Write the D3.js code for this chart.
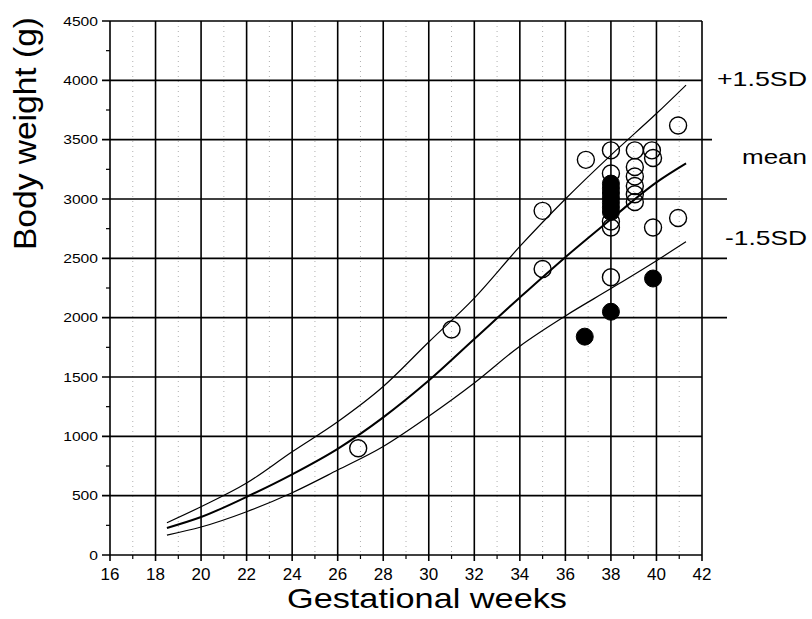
<!DOCTYPE html>
<html>
<head>
<meta charset="utf-8">
<script src="https://cdn.jsdelivr.net/npm/d3@7"></script>
<style>
  html, body { margin: 0; padding: 0; background: #fff; }
  svg { display: block; font-family: "Liberation Sans", Arial, sans-serif; }
</style>
</head>
<body>
<script>
// reference curves (weeks -> grams)
var curveWeeks = [18.5, 20, 22, 24, 26, 28, 30, 32, 34, 36, 38, 40, 41.3];
var plusSD  = [272, 407, 606, 870, 1123, 1420, 1795, 2165, 2600, 3000, 3370, 3720, 3960];
var meanW   = [228, 320, 490, 680, 895, 1160, 1470, 1820, 2170, 2510, 2830, 3140, 3300];
var minusSD = [168, 236, 365, 525, 716, 915, 1170, 1450, 1760, 2015, 2245, 2480, 2640];

// observed cases
var openWeeks  = [26.9, 31, 35, 35, 36.9, 38, 38, 38, 38, 38, 39.05, 39.05, 39.05, 39.05, 39.05, 39.05, 39.8, 39.85, 39.85, 40.95, 40.95];
var openGrams  = [900, 1900, 2900, 2410, 3330, 3410, 3215, 2810, 2760, 2340, 3410, 3270, 3190, 3110, 3040, 2975, 3410, 3345, 2760, 3620, 2840];
var fillWeeks  = [38, 38, 38, 38, 38, 38, 38, 38, 36.85, 39.85];
var fillGrams  = [3130, 3090, 3050, 3010, 2970, 2930, 2890, 2050, 1840, 2330];

var xTicks = d3.range(16, 43, 2);
var yTicks = d3.range(0, 4501, 500);
var curveLabels = ["+1.5SD", "mean", "-1.5SD"];

var W = 812, H = 619;
var x = d3.scaleLinear().domain([16, 42]).range([110, 702]);
var y = d3.scaleLinear().domain([0, 4500]).range([555, 21]);

var svg = d3.select(document.body).append("svg")
    .attr("width", W).attr("height", H);

// minor dotted verticals at odd weeks
svg.append("g").selectAll("line")
    .data(d3.range(17, 42, 2)).enter().append("line")
    .attr("x1", function(d){ return x(d); }).attr("x2", function(d){ return x(d); })
    .attr("y1", y(4500)).attr("y2", y(0))
    .style("stroke", "#b0b0b0").style("stroke-width", 1)
    .style("stroke-dasharray", "1,4");

// minor ticks
svg.append("g").selectAll("line")
    .data(d3.range(17, 42, 2)).enter().append("line")
    .attr("x1", function(d){ return x(d); }).attr("x2", function(d){ return x(d); })
    .attr("y1", y(0)).attr("y2", y(0) + 4)
    .style("stroke", "#000").style("stroke-width", 1.2);
svg.append("g").selectAll("line")
    .data(d3.range(250, 4500, 500)).enter().append("line")
    .attr("x1", x(16) - 4).attr("x2", x(16))
    .attr("y1", function(d){ return y(d); }).attr("y2", function(d){ return y(d); })
    .style("stroke", "#000").style("stroke-width", 1.2);

// major grid
svg.append("g").selectAll("line")
    .data(xTicks).enter().append("line")
    .attr("x1", function(d){ return x(d); }).attr("x2", function(d){ return x(d); })
    .attr("y1", y(4500)).attr("y2", y(0) + 6)
    .style("stroke", "#000").style("stroke-width", 1.6);

svg.append("g").selectAll("line")
    .data(yTicks).enter().append("line")
    .attr("x1", x(16) - 8)
    .attr("x2", function(d){
        var ext = (d >= 2000 && d <= 3000) ? 25 : (d === 3500 ? 10 : 0);
        return x(42) + ext;
    })
    .attr("y1", function(d){ return y(d); }).attr("y2", function(d){ return y(d); })
    .style("stroke", "#000").style("stroke-width", 1.6);

// tick labels
svg.append("g").selectAll("text")
    .data(yTicks).enter().append("text")
    .attr("x", 98).attr("y", function(d){ return y(d) + 4.5; })
    .attr("text-anchor", "end")
    .attr("textLength", function(d){ return String(d).length * 8.7; })
    .attr("lengthAdjust", "spacingAndGlyphs")
    .style("font-size", "13px")
    .text(function(d){ return d; });

svg.append("g").selectAll("text")
    .data(xTicks).enter().append("text")
    .attr("x", function(d){ return x(d); }).attr("y", 580)
    .attr("text-anchor", "middle")
    .style("font-size", "17px")
    .text(function(d){ return d; });

// axis titles
svg.append("text")
    .attr("transform", "translate(36,133.5) rotate(-90)")
    .attr("text-anchor", "middle")
    .attr("textLength", 233).attr("lengthAdjust", "spacingAndGlyphs")
    .style("font-size", "31px")
    .text("Body weight (g)");

svg.append("text")
    .attr("x", 427).attr("y", 608)
    .attr("text-anchor", "middle")
    .attr("textLength", 280).attr("lengthAdjust", "spacingAndGlyphs")
    .style("font-size", "28px")
    .text("Gestational weeks");

// curves
var series = [plusSD, meanW, minusSD];
var widths = [1.2, 2, 1.2];
var line = d3.line()
    .x(function(d){ return x(d[0]); })
    .y(function(d){ return y(d[1]); })
    .curve(d3.curveMonotoneX);

svg.append("g").selectAll("path")
    .data(series).enter().append("path")
    .attr("d", function(s){ return line(curveWeeks.map(function(w, i){ return [w, s[i]]; })); })
    .style("fill", "none").style("stroke", "#000")
    .style("stroke-width", function(s, i){ return widths[i]; });

// curve labels
var labelY = [86, 164, 245];
var labelX = [717, 742, 725];
var labelLen = [90, 65, 82];
svg.append("g").selectAll("text")
    .data(curveLabels).enter().append("text")
    .attr("x", function(d, i){ return labelX[i]; })
    .attr("y", function(d, i){ return labelY[i]; })
    .attr("textLength", function(d, i){ return labelLen[i]; })
    .attr("lengthAdjust", "spacingAndGlyphs")
    .style("font-size", "21px")
    .text(function(d){ return d; });

// points
svg.append("g").selectAll("circle")
    .data(openWeeks).enter().append("circle")
    .attr("cx", function(d){ return x(d); })
    .attr("cy", function(d, i){ return y(openGrams[i]); })
    .attr("r", 8.5)
    .style("fill", "#fff").style("fill-opacity", 0)
    .style("stroke", "#000").style("stroke-width", 1.4);

svg.append("g").selectAll("circle")
    .data(fillWeeks).enter().append("circle")
    .attr("cx", function(d){ return x(d); })
    .attr("cy", function(d, i){ return y(fillGrams[i]); })
    .attr("r", 8.5)
    .style("fill", "#000").style("stroke", "#000").style("stroke-width", 1);
</script>
</body>
</html>
